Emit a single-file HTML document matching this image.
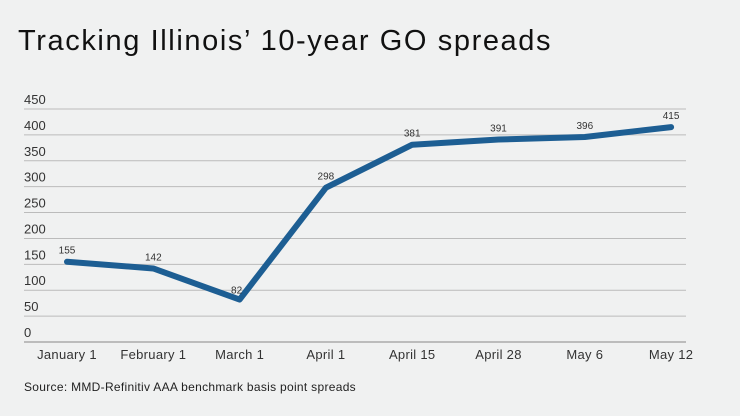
<!DOCTYPE html>
<html><head><meta charset="utf-8"><style>
body{margin:0;background:#f0f1f1;}
svg{display:block;font-family:"Liberation Sans",sans-serif;}
</style></head><body>
<svg id="c" width="740" height="416">
<rect width="740" height="416" fill="#f0f1f1"/>
<text x="18" y="50" font-size="29" letter-spacing="1.6" fill="#111">Tracking Illinois’ 10-year GO spreads</text>
<text x="24" y="391" font-size="12" letter-spacing="0.3" fill="#222">Source: MMD-Refinitiv AAA benchmark basis point spreads</text>
</svg>
<script>
const categories=["January 1","February 1","March 1","April 1","April 15","April 28","May 6","May 12"];
const values=[155,142,82,298,381,391,396,415];
const ticks=[0,50,100,150,200,250,300,350,400,450];
const svg=document.getElementById('c');const NS='http://www.w3.org/2000/svg';
const y=v=>342-v*(233/450);
const x=i=>67+i*86.3;
function mk(t,a){const e=document.createElementNS(NS,t);for(const k in a)e.setAttribute(k,a[k]);svg.appendChild(e);return e;}
ticks.forEach(t=>{
 const l=mk('line',{x1:24,x2:686,y1:y(t),y2:y(t),stroke:t===0?'#888':'#bbb','stroke-width':1});
 
 
 const tx=mk('text',{x:24,y:y(t)-5,'font-size':13,fill:'#333'});tx.textContent=t;
 
 
});
categories.forEach((c,i)=>{
 const tx=mk('text',{x:x(i),y:359,'font-size':13,'letter-spacing':0.3,fill:'#333','text-anchor':'middle'});tx.textContent=c;
 
 
});
const p=mk('polyline',{points:values.map((v,i)=>x(i)+','+y(v)).join(' '),fill:'none',stroke:'#1d5e93','stroke-width':6,'stroke-linejoin':'round','stroke-linecap':'round'});


values.forEach((v,i)=>{
 const tx=mk('text',{x:x(i)-(i===2?3:0),y:y(v)-(i===2?6:8),'font-size':10,fill:'#333','text-anchor':'middle'});tx.textContent=v;
 
 
});
</script>
</body></html>
